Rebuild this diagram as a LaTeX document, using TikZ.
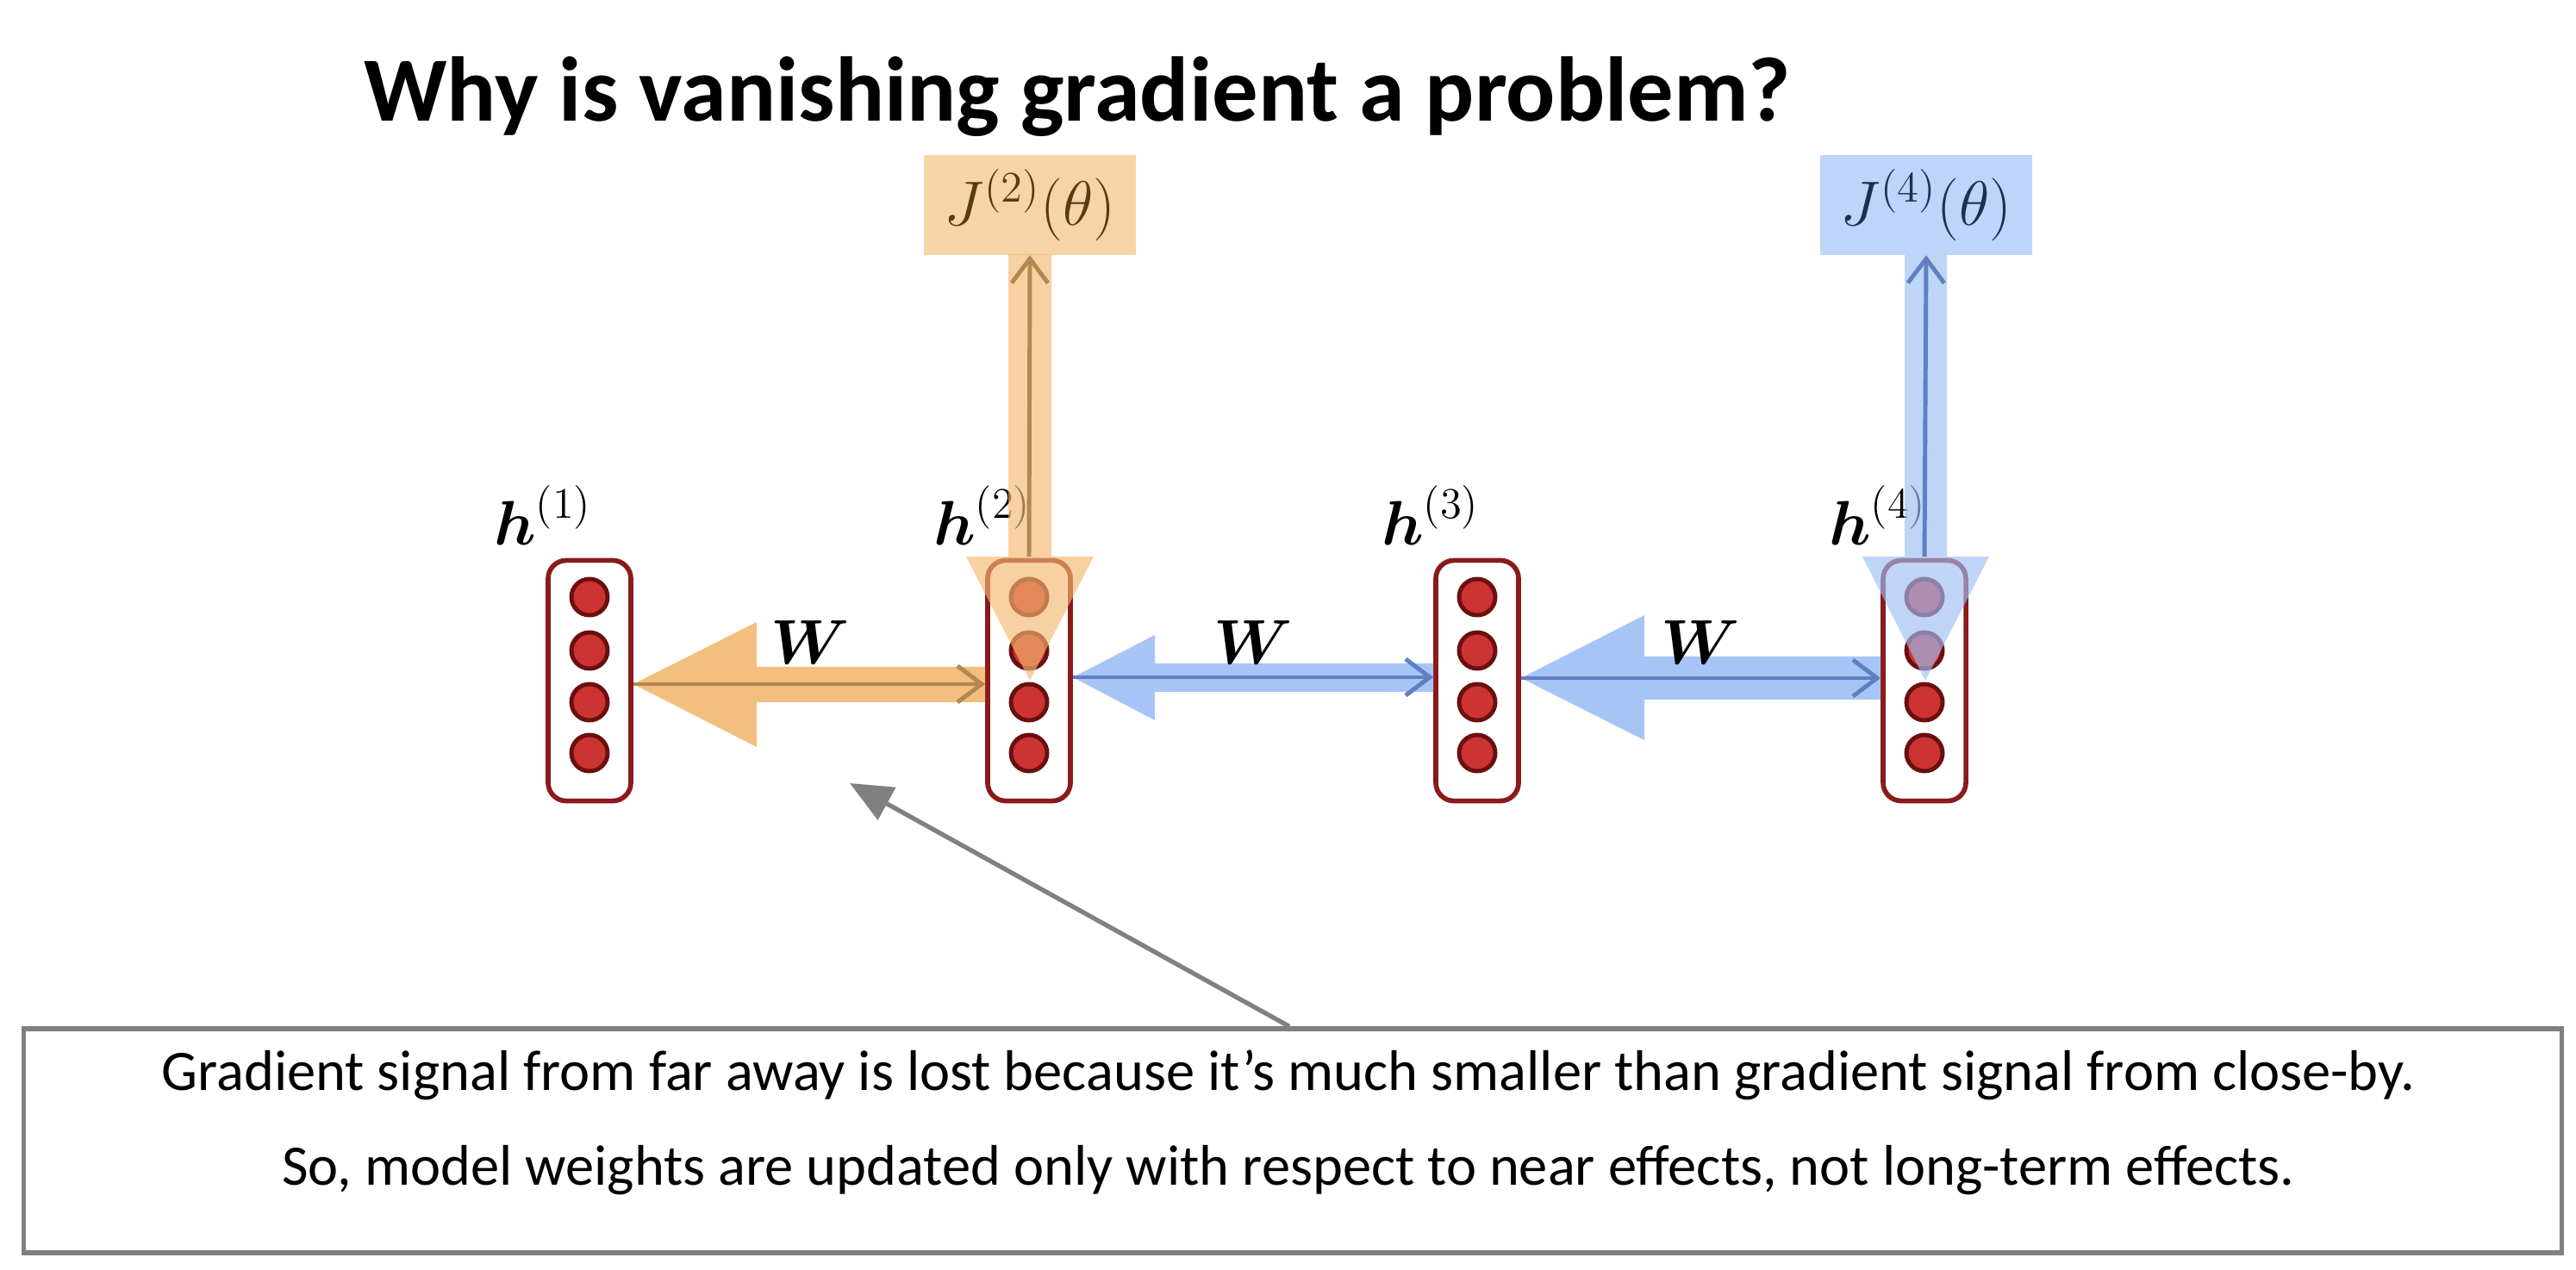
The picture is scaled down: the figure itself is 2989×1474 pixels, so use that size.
\documentclass[tikz,border=0pt]{standalone}
\usepackage{amsmath,amssymb}
\usepackage{fontspec}
\setmainfont{Carlito}
\usetikzlibrary{arrows.meta}
\definecolor{orb}{HTML}{F2B870}
\definecolor{blb}{HTML}{9DBEF5}
\definecolor{jor}{HTML}{F5D5A8}
\definecolor{jbl}{HTML}{BDD5F8}
\definecolor{cred}{HTML}{CC3333}
\definecolor{cbrd}{HTML}{6B0F0F}
\definecolor{bxr}{HTML}{8B1A1A}
\definecolor{othin}{HTML}{B08850}
\definecolor{bthin}{HTML}{5F80C0}
\definecolor{jotxt}{HTML}{5A3A10}
\definecolor{jbtxt}{HTML}{1E3050}
\tikzset{
 hbox/.style={draw=bxr,line width=1.6pt,rounded corners=6pt,minimum width=0.96cm,minimum height=2.79cm,inner sep=0},
 neuron/.style={circle,draw=cbrd,fill=cred,line width=1.4pt,minimum size=0.42cm,inner sep=0},
 hlab/.style={font=\fontsize{19.5}{19.5}\selectfont},
 jbox/.style={minimum width=2.46cm,minimum height=1.15cm,inner sep=0,font=\fontsize{22}{22}\selectfont},
 thin arr/.style={line width=1.4pt,-{Straight Barb[length=8pt,width=12pt]}},
 notetext/.style={font=\fontsize{18.9}{18.9}\selectfont},
}
\begin{document}
\begin{tikzpicture}[x=0.01cm,y=-0.01cm]
\useasboundingbox (0,0) rectangle (2989,1474);
\node[font=\fontsize{30.3}{31}\selectfont\bfseries] (title) at (1250,112) {Why is vanishing gradient a problem?};
% h boxes
\foreach \n/\x in {1/684,2/1194,3/1714,4/2233}{
  \node[hbox] (h\n) at (\x,790) {};
  \foreach \k/\y in {1/693,2/755,3/815,4/874}{
    \node[neuron] (c\n\k) at (\x,\y) {};
  }
  \node[hlab,anchor=south] (l\n) at (\x-54,645) {$\boldsymbol{h}^{(\n)}$};
}
% J boxes
\node[jbox,fill=jor,text=jotxt] (J2) at (1195,238) {$J^{(2)}(\theta)$};
\node[jbox,fill=jbl,text=jbtxt] (J4) at (2235,238) {$J^{(4)}(\theta)$};
% orange big arrow down
\fill[orb,opacity=0.65] (1170,295) -- (1220,295) -- (1220,646) -- (1269,646) -- (1195,790) -- (1121,646) -- (1170,646) -- cycle;
\draw[thin arr,draw=othin] (1194,646) -- (J2.south);
% blue big arrow down
\fill[blb,opacity=0.65] (2210,296) -- (2259,296) -- (2259,646) -- (2308,646) -- (2234,790) -- (2161,646) -- (2210,646) -- cycle;
\draw[thin arr,draw=bthin] (2233,646) -- (J4.south);
% orange horizontal h2 -> h1
\fill[orb,opacity=0.9] (h2.west|-0,774) -- (878,774) -- (878,722) -- (h1.east|-0,794) -- (878,867) -- (878,815) -- (h2.west|-0,815) -- cycle;
\draw[thin arr,draw=othin] (h1.east|-0,794) -- (h2.west|-0,794);
% blue h3 -> h2
\fill[blb,opacity=0.9] (h3.west|-0,770) -- (1340,770) -- (1340,737) -- (h2.east|-0,786) -- (1340,836) -- (1340,803) -- (h3.west|-0,803) -- cycle;
\draw[thin arr,draw=bthin] (h2.east|-0,786) -- (h3.west|-0,786);
% blue h4 -> h3
\fill[blb,opacity=0.9] (h4.west|-0,762) -- (1908,762) -- (1908,714) -- (h3.east|-0,787) -- (1908,859) -- (1908,812) -- (h4.west|-0,812) -- cycle;
\draw[thin arr,draw=bthin] (h3.east|-0,787) -- (h4.west|-0,787);
% W labels
\node[hlab] (w1) at (940,745) {$\boldsymbol{W}$};
\node[hlab] (w2) at (1454,745) {$\boldsymbol{W}$};
\node[hlab] (w3) at (1973,745) {$\boldsymbol{W}$};
% bottom box
\node[draw=gray,line width=1.5pt,minimum width=29.43cm,minimum height=2.6cm,inner sep=0] (note) at (1500,1324) {};
\node[notetext] (t1) at (1495,1248) {Gradient signal from far away is lost because it’s much smaller than gradient signal from close-by.};
\node[notetext] (t2) at (1495,1358) {So, model weights are updated only with respect to near effects, not long-term effects.};
\coordinate (tip) at (986,909);
\draw[gray,line width=1.5pt,-{Triangle[length=14pt,width=12pt]}] (note.north-|1496,0) -- (tip);
\end{tikzpicture}
\end{document}
